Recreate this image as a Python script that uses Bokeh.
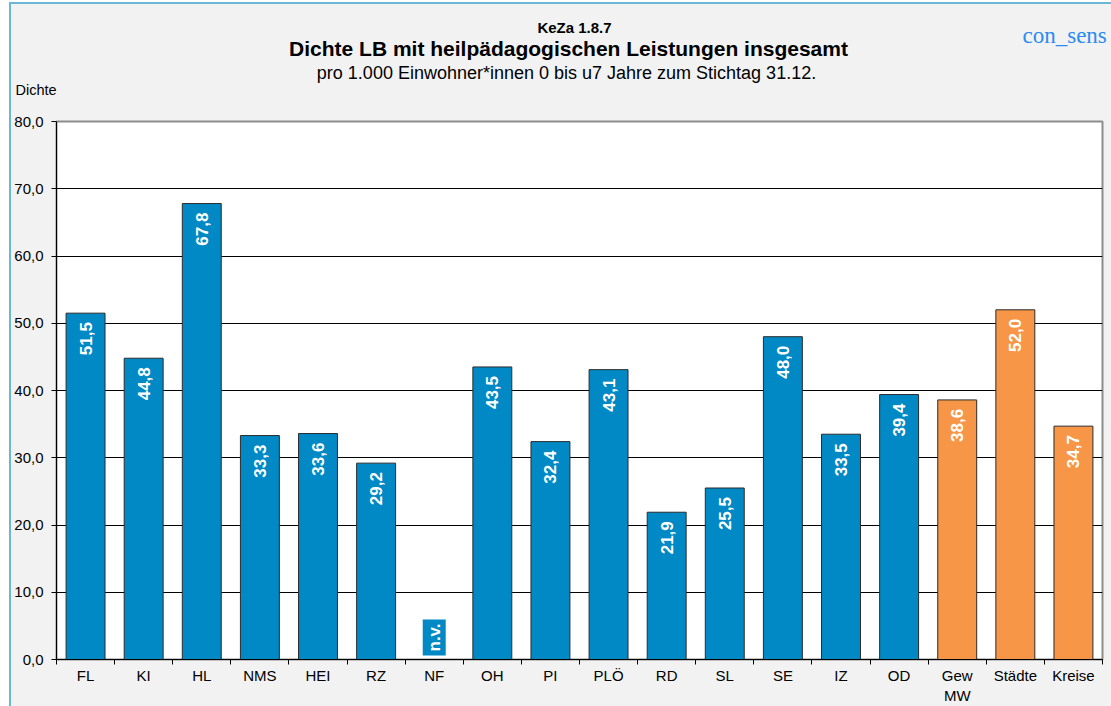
import numpy as np
from bokeh.plotting import figure
from bokeh.layouts import column
from bokeh.models import FixedTicker, Label, ColumnDataSource, Range1d, Title
from bokeh.embed import file_html
from bokeh.resources import INLINE
from bokeh.core.properties import value

categories = ["FL", "KI", "HL", "NMS", "HEI", "RZ", "NF", "OH", "PI", "PLÖ",
              "RD", "SL", "SE", "IZ", "OD", "Gew\nMW", "Städte", "Kreise"]
values = [51.5, 44.8, 67.8, 33.3, 33.6, 29.2, np.nan, 43.5, 32.4, 43.1,
          21.9, 25.5, 48.0, 33.5, 39.4, 38.6, 52.0, 34.7]
groups = ["kreis"] * 15 + ["mittel"] * 3
missing = ["NF"]
y_ticks = [0, 10, 20, 30, 40, 50, 60, 70, 80]

BLUE = "#0189c5"
ORANGE = "#f79646"
GRAY = "#f2f2f2"
FONT = "Liberation Sans"

xpos = np.arange(len(categories)) + 0.5
vals = np.array(values, dtype=float)
colors = [BLUE if g == "kreis" else ORANGE for g in groups]
lbl = ["" if np.isnan(v) else f"{v:.1f}".replace(".", ",") for v in vals]
top = np.where(np.isnan(vals), 0, vals)

src = ColumnDataSource(dict(x=xpos, top=top, color=colors, lbl=lbl))

W = 1100
TOP0 = 4          # page y of the header's top
LEFT0 = 11        # page x of the canvases' left edge

probe = figure(width=10, height=10)
can_unalign = "frame_align" in probe.properties()

HH = 94 if can_unalign else 79
H = 702 - HH

# ---------- header with the titles (coordinates = page pixels) ----------
hdr = figure(width=W, height=HH, output_backend="svg", toolbar_location=None,
             x_axis_type=None, y_axis_type=None, min_border=0,
             min_border_left=0 if can_unalign else 45,
             min_border_right=0 if can_unalign else 9)
if can_unalign:
    hdr.frame_align = False
    hdr.x_range = Range1d(LEFT0, LEFT0 + W)
else:
    hdr.x_range = Range1d(56, 1102)
hdr.y_range = Range1d(TOP0 + HH, TOP0)
hdr.grid.visible = False
hdr.outline_line_color = None
hdr.background_fill_color = GRAY
hdr.border_fill_color = GRAY

def add(text, x, y, size, bold=False, align="center", font=FONT, color="black"):
    hdr.add_layout(Label(x=x, y=y, text=text, text_align=align, text_baseline="middle",
                         text_font=font, text_font_size=size,
                         text_font_style="bold" if bold else "normal",
                         text_color=color))

add("KeZa 1.8.7", 574, 27, "15px", bold=True)
add("Dichte LB mit heilpädagogischen Leistungen insgesamt", 568, 48, "21px", bold=True)
add("pro 1.000 Einwohner*innen 0 bis u7 Jahre zum Stichtag 31.12.", 566, 72, "18px")
if can_unalign:
    add("Dichte", 15, 89, "14.5px", align="left")
    add("con_sens", 1022, 35, "23px", align="left", font="Liberation Serif", color="#2a8cf0")
else:
    add("con_sens", 1022, 35, "22px", align="left", font="Liberation Serif", color="#2a8cf0")

# ---------- chart ----------
p = figure(width=W, height=H, output_backend="svg", toolbar_location=None,
           x_range=Range1d(0, len(categories)), y_range=Range1d(0, 80),
           min_border_left=45, min_border_right=9,
           min_border_top=121 - TOP0 - HH, min_border_bottom=43)
p.border_fill_color = GRAY
p.background_fill_color = "white"
p.outline_line_color = "#8c8c8c"
p.outline_line_width = 2

if not can_unalign:
    p.add_layout(Title(text="Dichte", align="left", offset=-41, standoff=20,
                       text_font=FONT, text_font_size="14.5px", text_font_style="normal",
                       text_color="black"), "above")

p.vbar(x="x", top="top", width=0.67, bottom=0, fill_color="color",
       line_color="#2b2b2b", line_width=1, source=src)

p.text(x="x", y="top", text="lbl", source=src, angle=np.pi / 2,
       text_align="right", text_baseline="middle", y_offset=9,
       text_color="white", text_font=value(FONT), text_font_style="bold",
       text_font_size="17px")

for m in missing:
    i = categories.index(m)
    p.add_layout(Label(x=xpos[i], y=0, y_offset=4, text="n.v.", angle=np.pi / 2,
                       text_align="left", text_baseline="middle",
                       text_color="white", text_font=FONT, text_font_style="bold",
                       text_font_size="17px", background_fill_color=BLUE,
                       padding=(4, 2)))

p.xgrid.visible = False
p.ygrid.grid_line_color = "black"
p.ygrid.grid_line_width = 1
p.yaxis.ticker = FixedTicker(ticks=y_ticks)
p.ygrid.ticker = FixedTicker(ticks=y_ticks)
p.yaxis.major_label_overrides = {t: f"{t:.1f}".replace(".", ",") for t in y_ticks}
p.yaxis.minor_tick_line_color = None
p.yaxis.major_tick_out = 5
p.yaxis.major_tick_in = 0
p.yaxis.axis_line_color = "black"
p.yaxis.major_tick_line_color = "black"
p.yaxis.major_label_text_font = FONT
p.yaxis.major_label_text_font_size = "15px"
p.yaxis.major_label_text_color = "black"
p.yaxis.major_label_standoff = 8

p.xaxis.ticker = FixedTicker(ticks=list(xpos), minor_ticks=list(range(len(categories) + 1)))
p.xaxis.major_label_overrides = {float(x): c for x, c in zip(xpos, categories)}
p.xaxis.major_tick_line_color = None
p.xaxis.major_tick_out = 0
p.xaxis.minor_tick_line_color = "black"
p.xaxis.minor_tick_out = 5
p.xaxis.minor_tick_in = 0
p.xaxis.axis_line_color = "black"
p.xaxis.major_label_text_font = FONT
p.xaxis.major_label_text_font_size = "15px"
p.xaxis.major_label_text_color = "black"
p.xaxis.major_label_standoff = 2

layout = column(hdr, p, spacing=0)
layout.styles = {"border-top": "2px solid #6ab7d6", "border-left": "2px solid #6ab7d6",
                 "margin-left": "9px", "margin-top": "2px", "background-color": GRAY}

open("out.html", "w").write(file_html(layout, INLINE))
